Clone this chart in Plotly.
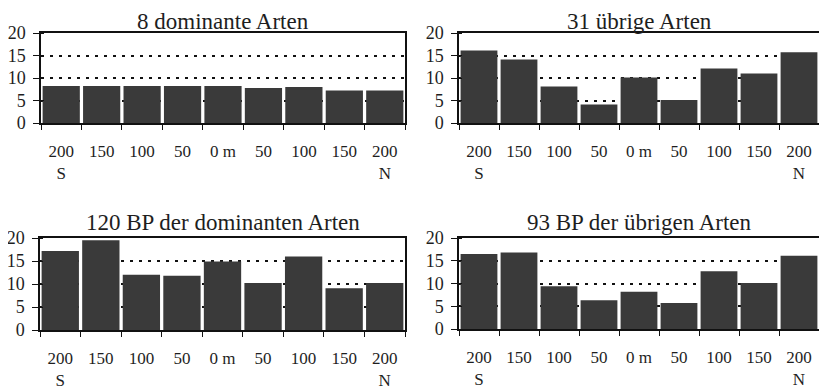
import plotly.graph_objects as go

# page body has an 8px margin, so the figure is drawn 8px in from the top-left
OFF = 8
W, H = 827 - OFF, 389 - OFF

positions = ["S 200", "S 150", "S 100", "S 50", "0 m", "N 50", "N 100", "N 150", "N 200"]
tick_labels = ["200<br>S", "150", "100", "50", "0 m", "50", "100", "150", "200<br>N"]

dominante_arten = [8.2, 8.2, 8.2, 8.2, 8.2, 7.8, 8.0, 7.2, 7.2]
uebrige_arten = [16.1, 14.1, 8.1, 4.1, 10.1, 5.1, 12.1, 11.0, 15.7]
bp_dominante = [17.2, 19.5, 12.0, 11.8, 14.9, 10.2, 16.0, 9.1, 10.2]
bp_uebrige = [16.5, 16.8, 9.4, 6.3, 8.2, 5.7, 12.7, 10.1, 16.1]

titles = ["8 dominante Arten", "31 übrige Arten",
          "120 BP der dominanten Arten", "93 BP der übrigen Arten"]
series = [dominante_arten, uebrige_arten, bp_dominante, bp_uebrige]

y_ticks = [0, 5, 10, 15, 20]
# inner half of the crossing tick marks (nudged so they are not merged with the major ticks)
y_inner_ticks = [v + 0.001 for v in y_ticks]

# target pixel boxes in the window: (x0, x1, ytop, ybottom)
boxes = [(41, 405, 33, 123), (459, 819, 33, 123),
         (40, 405, 238, 330), (459, 819, 238, 329)]
title_y = [21, 21, 222, 222]

FONT = "'Times New Roman', 'Liberation Serif', 'DejaVu Serif', serif"
TXT = "#1e1e1e"
BAR = "#3a3a3a"
LINE = "#111111"


def px(x):
    return (x - OFF) / W


def py(y):
    return 1 - (y - OFF) / H


fig = go.Figure()
layout = dict(
    width=W, height=H,
    margin=dict(l=0, r=0, t=0, b=0),
    paper_bgcolor="white", plot_bgcolor="white",
    showlegend=False, bargap=0.08,
    font=dict(family=FONT, color=TXT, size=17),
    annotations=[],
)

for i, (vals, (x0, x1, yt, yb)) in enumerate(zip(series, boxes)):
    n = "" if i == 0 else str(i + 1)
    fig.add_trace(go.Bar(x=positions, y=vals, marker=dict(color=BAR, line=dict(width=0)),
                         xaxis="x" + n, yaxis="y" + n, hoverinfo="skip"))
    layout["xaxis" + n] = dict(
        domain=[px(x0), px(x1)], anchor="y" + n,
        type="category", tickmode="array", tickvals=positions, ticktext=tick_labels,
        tickson="boundaries", ticks="outside", ticklen=5, tickwidth=1.3, tickcolor=LINE,
        showline=True, linecolor=LINE, linewidth=1.5, mirror=True,
        showgrid=False, ticklabelstandoff=12, automargin=False,
        tickfont=dict(family=FONT, size=17, color=TXT), fixedrange=True,
    )
    layout["yaxis" + n] = dict(
        domain=[py(yb), py(yt)], anchor="x" + n,
        range=[0, 20], tickvals=y_ticks, ticks="outside", ticklen=6, tickwidth=1.3,
        tickcolor=LINE, showline=True, linecolor=LINE, linewidth=1.5, mirror=True,
        showgrid=True, gridcolor=LINE, gridwidth=1.5, griddash="3px,6px", zeroline=False,
        minor=dict(tickmode="array", tickvals=y_inner_ticks, ticks="inside", ticklen=3,
                   tickwidth=1.3, tickcolor=LINE, showgrid=False),
        ticklabelstandoff=4, automargin=False,
        tickfont=dict(family=FONT, size=18, color=TXT), fixedrange=True,
    )
    layout["annotations"].append(dict(
        text=titles[i], xref="paper", yref="paper",
        x=(px(x0) + px(x1)) / 2, y=py(title_y[i]), xanchor="center", yanchor="middle",
        showarrow=False, font=dict(family=FONT, size=23, color=TXT)))

fig.update_layout(**layout)
fig.write_html("out.html")
